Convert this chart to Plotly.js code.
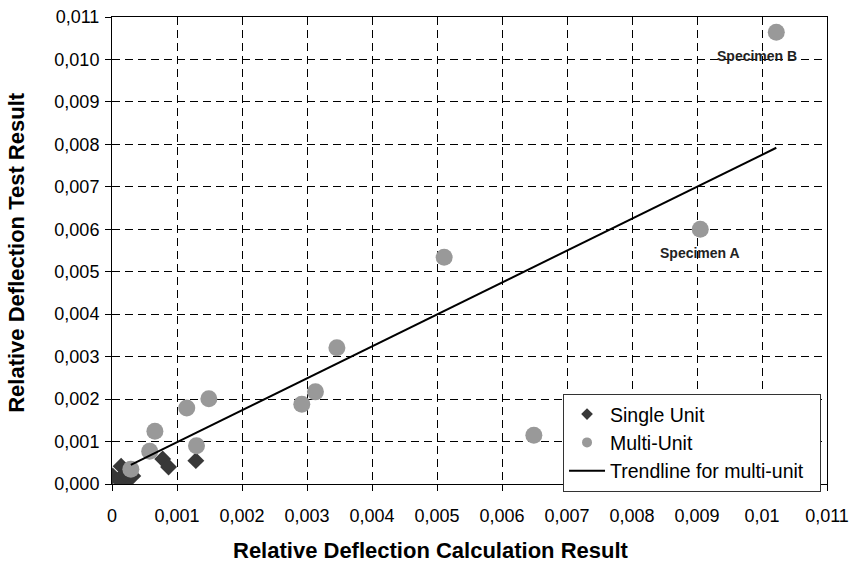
<!DOCTYPE html>
<html>
<head>
<meta charset="utf-8">
<script src="https://cdn.plot.ly/plotly-3.0.1.min.js"></script>
<style>html,body{margin:0;padding:0;background:#fff;}#chart{width:854px;height:563px;}</style>
</head>
<body>
<div id="chart"></div>
<script>
// Single-unit specimens (calculation, test)
const singleX = [0.00001, 0.00014, 0.00010, 0.00023, 0.00032, 0.00020, 0.00078, 0.00087, 0.00129];
const singleY = [0.00019, 0.00042, 0.00010, 0.00007, 0.00019, 0.00024, 0.00059, 0.00040, 0.00055];
// Multi-unit specimens
const multiX = [0.00029, 0.00058, 0.00066, 0.00115, 0.00130, 0.00149, 0.00292, 0.00313, 0.00346, 0.00511, 0.00649, 0.00905, 0.01022];
const multiY = [0.00035, 0.00077, 0.00124, 0.00179, 0.00090, 0.00201, 0.00188, 0.00217, 0.00321, 0.00534, 0.00115, 0.00600, 0.01064];
// Trendline for multi-unit (end points)
const trendX = [0.00029, 0.01022];
const trendY = [0.00045, 0.00792];
// Ticks
const xTickVals = [0, 0.001, 0.002, 0.003, 0.004, 0.005, 0.006, 0.007, 0.008, 0.009, 0.010, 0.011];
const xTickText = ["0", "0,001", "0,002", "0,003", "0,004", "0,005", "0,006", "0,007", "0,008", "0,009", "0,01", "0,011"];
const yTickVals = [0, 0.001, 0.002, 0.003, 0.004, 0.005, 0.006, 0.007, 0.008, 0.009, 0.010, 0.011];
const yTickText = ["0,000", "0,001", "0,002", "0,003", "0,004", "0,005", "0,006", "0,007", "0,008", "0,009", "0,010", "0,011"];
// Labels
const annoText = ["Specimen B", "Specimen A"];
const annoX = [0.00993, 0.00905];
const annoY = [0.01007, 0.00543];
const xTitle = "Relative Deflection Calculation Result";
const yTitle = "Relative Deflection Test Result";
const legendNames = ["Single Unit", "Multi-Unit", "Trendline for multi-unit"];

const FONT = "Arial, 'Liberation Sans', sans-serif";
const cMulti = "#999999", cSingle = "#383838";

const traces = [
  {x: singleX, y: singleY, type: "scatter", mode: "markers", showlegend: false,
   marker: {symbol: "diamond", size: 13, color: cSingle}},
  {x: multiX, y: multiY, type: "scatter", mode: "markers", showlegend: false,
   marker: {symbol: "circle", size: 17, color: cMulti}},
  {x: trendX, y: trendY, type: "scatter", mode: "lines", showlegend: false,
   line: {color: "#000", width: 2}},
  // legend entries
  {x: [null], y: [null], type: "scatter", mode: "markers", name: legendNames[0],
   marker: {symbol: "diamond", size: 9, color: cSingle}},
  {x: [null], y: [null], type: "scatter", mode: "markers", name: legendNames[1],
   marker: {symbol: "circle", size: 10, color: cMulti}},
  {x: [null], y: [null], type: "scatter", mode: "lines", name: legendNames[2] + "\u00a0\u00a0",
   line: {color: "#000", width: 2}}
];

const annotations = annoText.map((t, i) => ({
  x: annoX[i], y: annoY[i], xref: "x", yref: "y", text: "<b>" + t + "</b>",
  showarrow: false, font: {family: FONT, size: 14, color: "#222"}
}));
annotations.push({
  x: 0.446, y: -0.143, xref: "paper", yref: "paper", xanchor: "center", yanchor: "middle",
  text: "<b>" + xTitle + "</b>", showarrow: false, font: {family: FONT, size: 22, color: "#000"}
});
annotations.push({
  x: -0.133, y: 0.497, xref: "paper", yref: "paper", xanchor: "center", yanchor: "middle",
  textangle: -90, text: "<b>" + yTitle + "</b>", showarrow: false, font: {family: FONT, size: 22, color: "#000"}
});

const axisCommon = {
  showline: true, linecolor: "#000", linewidth: 1, mirror: true,
  showgrid: true, gridcolor: "#000", gridwidth: 1, griddash: "8px,5px",
  zeroline: false, ticks: "outside", ticklen: 6, tickcolor: "#000",
  tickmode: "array", fixedrange: true
};

const layout = {
  width: 854, height: 563,
  margin: {l: 112, r: 27, t: 17, b: 79},
  paper_bgcolor: "#fff", plot_bgcolor: "#fff",
  font: {family: FONT, color: "#000"},
  xaxis: Object.assign({}, axisCommon, {
    range: [0, 0.011], tickvals: xTickVals, ticktext: xTickText,
    tickfont: {size: 18, family: FONT}, ticklabelstandoff: 9
  }),
  yaxis: Object.assign({}, axisCommon, {
    range: [0, 0.011], tickvals: yTickVals, ticktext: yTickText,
    tickfont: {size: 18, family: FONT}, ticklabelstandoff: 2
  }),
  legend: {
    x: 0.6308, y: 0.193, xanchor: "left", yanchor: "top",
    bgcolor: "#fff", bordercolor: "#333", borderwidth: 1,
    font: {size: 19.5, family: FONT}, traceorder: "normal", itemwidth: 36
  },
  annotations: annotations,
  showlegend: true
};

Plotly.newPlot("chart", traces, layout, {displayModeBar: false, staticPlot: true});
</script>
</body>
</html>
